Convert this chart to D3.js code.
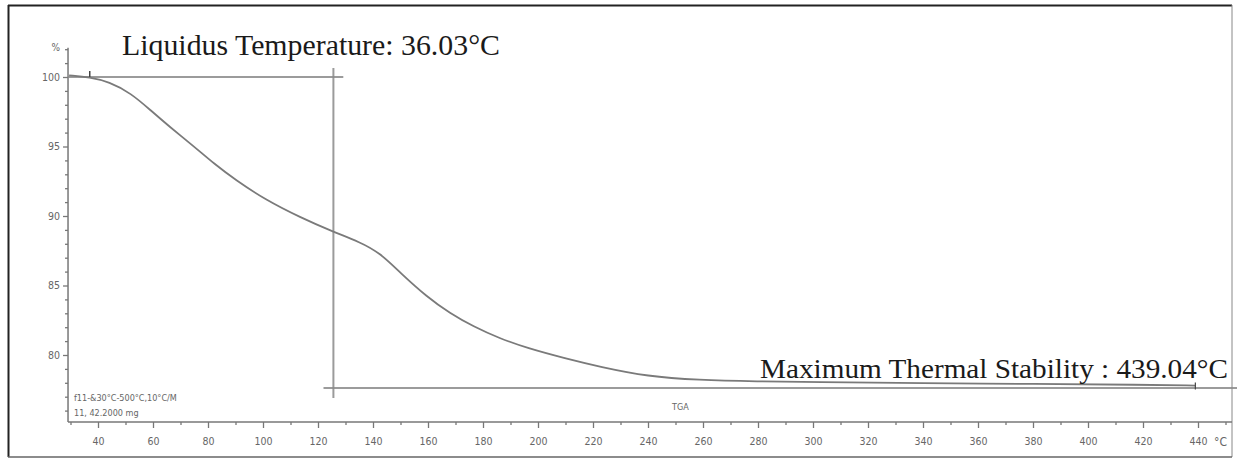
<!DOCTYPE html>
<meta charset="utf-8">
<script src="https://cdn.jsdelivr.net/npm/d3@7/dist/d3.min.js"></script>
<style>
body { margin: 0; background: #fff; }
.tick text { font: 10.5px "DejaVu Sans Condensed", "DejaVu Sans", sans-serif; fill: #666; }
.tick line { stroke: #777; stroke-width: 1.3px; }
.domain { display: none; }
.note { font: 9px "DejaVu Sans Condensed", "DejaVu Sans", sans-serif; fill: #666; }
.big { font-family: "Liberation Serif", "Times New Roman", serif; fill: #1a1a1a; }
</style>
<body>
<script>

// TGA curve (temperature in °C, mass in %)
var temps = [29.5, 37, 44, 52, 59, 66, 75, 82, 90, 101, 113.5, 125.6, 135, 142.5, 150, 159.5, 168, 176.5, 186, 196, 210, 222.5, 240, 258, 280, 300, 340, 380, 420, 439.04];
var mass  = [100.12, 99.98, 99.66, 98.83, 97.63, 96.42, 94.99, 93.79, 92.59, 91.15, 89.9, 88.85, 88.15, 87.35, 85.9, 84.2, 83.0, 82.05, 81.2, 80.5, 79.75, 79.15, 78.45, 78.2, 78.1, 78.05, 77.98, 77.92, 77.86, 77.8];

// axis ticks
var xMajor = [40, 60, 80, 100, 120, 140, 160, 180, 200, 220, 240, 260, 280, 300, 320, 340, 360, 380, 400, 420, 440];
var xMinor = [30, 50, 70, 90, 110, 130, 150, 170, 190, 210, 230, 250, 270, 290, 310, 330, 350, 370, 390, 410, 430, 450];
var yMajor = [80, 85, 90, 95, 100];
var yMinor = [76, 77, 78, 79, 81, 82, 83, 84, 86, 87, 88, 89, 91, 92, 93, 94, 96, 97, 98, 99, 101, 102];

// annotation lines (data coords)
var liquidusT = 125.6, liquidusTop = 100.65, liquidusBottom = 76.9;
var topLineT = [29.1, 129.2], topLineV = 100;
var stableLineT = [122, 455], stableLineV = 77.63;

var width = 1237, height = 459;

var svg = d3.select("body").append("svg")
    .attr("width", width)
    .attr("height", height);

var x = d3.scaleLinear().domain([40, 440]).range([98, 1198]);
var y = d3.scaleLinear().domain([80, 100]).range([355, 77]);

var x0 = x(29.1), y0 = 422;

// outer frame
svg.append("line").attr("x1", 8).attr("x2", 1232).attr("y1", 5.5).attr("y2", 5.5).style("stroke", "#222").style("stroke-width", 2);
svg.append("line").attr("x1", 8.5).attr("x2", 8.5).attr("y1", 5).attr("y2", 457).style("stroke", "#222").style("stroke-width", 2);
svg.append("line").attr("x1", 1232).attr("x2", 1232).attr("y1", 5).attr("y2", 457).style("stroke", "#888").style("stroke-width", 1);
svg.append("line").attr("x1", 8).attr("x2", 1232).attr("y1", 457).attr("y2", 457).style("stroke", "#666").style("stroke-width", 1.5);

// axes
svg.append("g").attr("transform", "translate(0," + y0 + ")")
    .call(d3.axisBottom(x).tickValues(xMajor).tickSize(6).tickPadding(10).tickFormat(d3.format("d")));
svg.append("g").attr("transform", "translate(0," + y0 + ")")
    .call(d3.axisBottom(x).tickValues(xMinor).tickSize(3).tickFormat(""));

svg.append("g").attr("transform", "translate(" + x0 + ",0)")
    .call(d3.axisLeft(y).tickValues(yMajor).tickSize(5).tickPadding(3).tickFormat(d3.format("d")));
svg.append("g").attr("transform", "translate(" + x0 + ",0)")
    .call(d3.axisLeft(y).tickValues(yMinor).tickSize(3).tickFormat(""));

svg.append("line").attr("x1", x0).attr("x2", x0).attr("y1", y(102.1)).attr("y2", y0)
    .style("stroke", "#777").style("stroke-width", 1.5);
svg.append("line").attr("x1", x0).attr("x2", 1232).attr("y1", y0).attr("y2", y0)
    .style("stroke", "#777").style("stroke-width", 1.5);

svg.append("text").attr("class", "note").attr("x", x0 - 8).attr("y", y(102.1) + 3)
    .attr("text-anchor", "end").style("font-size", "10px").text("%");
svg.append("text").attr("class", "note").attr("x", 1214).attr("y", y0 + 24)
    .style("font-size", "12px").text("°C");

// annotation lines
var guide = { stroke: "#8a8a8a", "stroke-width": 2, opacity: 0.85 };
function guideLine(x1, y1, x2, y2) {
  var l = svg.append("line").attr("x1", x1).attr("y1", y1).attr("x2", x2).attr("y2", y2);
  for (var k in guide) l.style(k, guide[k]);
}
guideLine(x(topLineT[0]), y(topLineV), x(topLineT[1]), y(topLineV));
guideLine(x(liquidusT), y(liquidusTop), x(liquidusT), y(liquidusBottom));
guideLine(x(stableLineT[0]), y(stableLineV), x(stableLineT[1]), y(stableLineV));

// TGA curve
var data = temps.map(function(t, i) { return {t: t, v: mass[i]}; });
var line = d3.line()
    .x(function(d) { return x(d.t); })
    .y(function(d) { return y(d.v); })
    .curve(d3.curveBasis);

svg.append("path")
    .datum(data)
    .attr("d", line)
    .style("fill", "none")
    .style("stroke", "#7a7a7a")
    .style("stroke-width", 1.8);

// start / end markers
svg.append("line").attr("x1", x(37)).attr("x2", x(37)).attr("y1", y(100) - 6).attr("y2", y(100))
    .style("stroke", "#444").style("stroke-width", 1.5);
svg.append("line").attr("x1", x(439.04)).attr("x2", x(439.04)).attr("y1", y(77.8) - 3).attr("y2", y(77.8) + 4)
    .style("stroke", "#444").style("stroke-width", 1.2);

// method notes
svg.append("text").attr("class", "note").attr("x", x0 + 6).attr("y", 401).text("f11-&30°C-500°C,10°C/M");
svg.append("text").attr("class", "note").attr("x", x0 + 6).attr("y", 416).text("11, 42.2000 mg");
svg.append("text").attr("class", "note").attr("x", 672).attr("y", 410).text("TGA");

// big annotations
svg.append("text").attr("class", "big").attr("x", 122).attr("y", 55)
    .style("font-size", "30px").attr("textLength", 378).attr("lengthAdjust", "spacingAndGlyphs")
    .text("Liquidus Temperature: 36.03°C");
svg.append("text").attr("class", "big").attr("x", 760).attr("y", 378)
    .style("font-size", "27.5px").attr("textLength", 468).attr("lengthAdjust", "spacingAndGlyphs")
    .text("Maximum Thermal Stability : 439.04°C");

</script>
</body>
</html>
